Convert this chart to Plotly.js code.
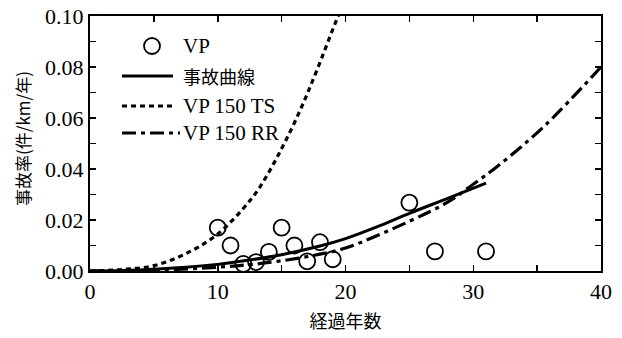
<!DOCTYPE html>
<html>
<head>
<meta charset="utf-8">
<script src="https://cdn.plot.ly/plotly-3.0.1.min.js"></script>
<style>html,body{margin:0;padding:0;background:#fff;}#chart{width:622px;height:338px;}</style>
</head>
<body>
<div id="chart"></div>
<script>
// Observed VP data points
const vpYears = [10, 11, 12, 13, 14, 15, 16, 17, 18, 19, 25, 27, 31];
const vpRates = [0.017, 0.010, 0.0028, 0.0035, 0.0075, 0.017, 0.0100, 0.0038, 0.0113, 0.0046, 0.0268, 0.0077, 0.0077];

// 事故曲線 (solid)
const curveYears = [0, 2.5, 5, 7.5, 10, 12.5, 15, 18, 20, 22.5, 25, 28, 31];
const curveRates = [0, 0.0002, 0.0007, 0.0015, 0.0026, 0.0043, 0.0064, 0.0098, 0.0127, 0.0174, 0.0226, 0.0285, 0.0345];

// VP 150 TS (dotted)
const tsYears = [0, 2.5, 5, 7.5, 10, 12.5, 13.5, 15, 16.4, 17.7, 19.4, 19.7];
const tsRates = [0, 0.0006, 0.0021, 0.0068, 0.0145, 0.0275, 0.0345, 0.048, 0.0625, 0.078, 0.0997, 0.103];

// VP 150 RR (dash-dot)
const rrYears = [0, 5, 10, 12.5, 15, 18, 20, 25, 28, 30, 32, 35.6, 40];
const rrRates = [0, 0.0003, 0.0015, 0.0025, 0.0040, 0.0066, 0.0090, 0.0195, 0.027, 0.034, 0.0415, 0.057, 0.080];

const legendLabels = ['VP', '事故曲線', 'VP 150 TS', 'VP 150 RR'];
const xTitle = '経過年数';
const yTitle = '事故率(件/km/年)';

const SERIF = 'Liberation Serif';
const CJK = 'Noto Sans CJK JP';

const L = 90, R = 601, T = 16, B = 271;
const px = x => (x - L) / (R - L);
const py = y => (B - y) / (B - T);

const traces = [
  {x: rrYears, y: rrRates, mode: 'lines', line: {color: '#000', width: 3.2, dash: '14px,5px,4px,5px', shape: 'spline'}, showlegend: false, hoverinfo: 'skip'},
  {x: tsYears, y: tsRates, mode: 'lines', line: {color: '#000', width: 3.2, dash: '5px,4px', shape: 'spline'}, showlegend: false, hoverinfo: 'skip'},
  {x: curveYears, y: curveRates, mode: 'lines', line: {color: '#000', width: 3, shape: 'spline'}, showlegend: false, hoverinfo: 'skip'},
  {x: vpYears, y: vpRates, mode: 'markers', marker: {symbol: 'circle-open', size: 16, color: '#000', line: {width: 1.8, color: '#000'}}, showlegend: false, cliponaxis: false}
];

function axisBase() {
  return {
    showgrid: false, zeroline: false, showline: true, linecolor: '#000', linewidth: 2,
    mirror: 'ticks', ticks: 'inside', ticklen: 6, tickwidth: 1.5, tickcolor: '#000',
    tickfont: {family: SERIF, size: 22, color: '#000'}
  };
}

const shapes = [
  {type: 'circle', xref: 'paper', yref: 'paper', xsizemode: 'pixel', ysizemode: 'pixel',
   xanchor: px(152), yanchor: py(46), x0: -8, x1: 8, y0: -8, y1: 8, line: {color: '#000', width: 1.8}},
  {type: 'line', xref: 'paper', yref: 'paper', x0: px(122), x1: px(173), y0: py(76), y1: py(76), line: {color: '#000', width: 3}},
  {type: 'line', xref: 'paper', yref: 'paper', x0: px(122), x1: px(173), y0: py(106), y1: py(106), line: {color: '#000', width: 3.2, dash: '5px,4px'}},
  {type: 'line', xref: 'paper', yref: 'paper', x0: px(122), x1: px(180), y0: py(133), y1: py(133), line: {color: '#000', width: 3.2, dash: '14px,5px,4px,5px'}}
];

const legY = [46, 76, 106, 133];
const annotations = legendLabels.map((t, i) => ({
  xref: 'paper', yref: 'paper', x: px(181), y: py(legY[i]), xanchor: 'left', yanchor: 'middle',
  text: t, showarrow: false,
  font: {family: i === 1 ? CJK : SERIF, size: i === 1 ? 18 : 21, color: '#000'}
}));
annotations.push({
  xref: 'paper', yref: 'paper', x: px(22), y: py(139), xanchor: 'center', yanchor: 'middle',
  text: yTitle, textangle: -90, showarrow: false,
  font: {family: CJK, size: 17, color: '#000'}
});

const layout = {
  width: 622, height: 338,
  margin: {l: L, r: 622 - R, t: T, b: 338 - B},
  paper_bgcolor: '#fff', plot_bgcolor: '#fff',
  showlegend: false,
  xaxis: Object.assign(axisBase(), {
    range: [0, 40], dtick: 10, tick0: 0,
    minor: {dtick: 5, ticks: 'inside', ticklen: 6, tickwidth: 1.5, tickcolor: '#000'},
    title: {text: xTitle, font: {family: CJK, size: 18, color: '#000'}, standoff: 12}
  }),
  yaxis: Object.assign(axisBase(), {
    range: [0, 0.1], dtick: 0.02, tick0: 0, tickformat: '.2f',
    minor: {dtick: 0.01, ticks: 'inside', ticklen: 6, tickwidth: 1.5, tickcolor: '#000'}
  }),
  shapes: shapes,
  annotations: annotations
};

Plotly.newPlot('chart', traces, layout, {staticPlot: true, displayModeBar: false});
</script>
</body>
</html>
